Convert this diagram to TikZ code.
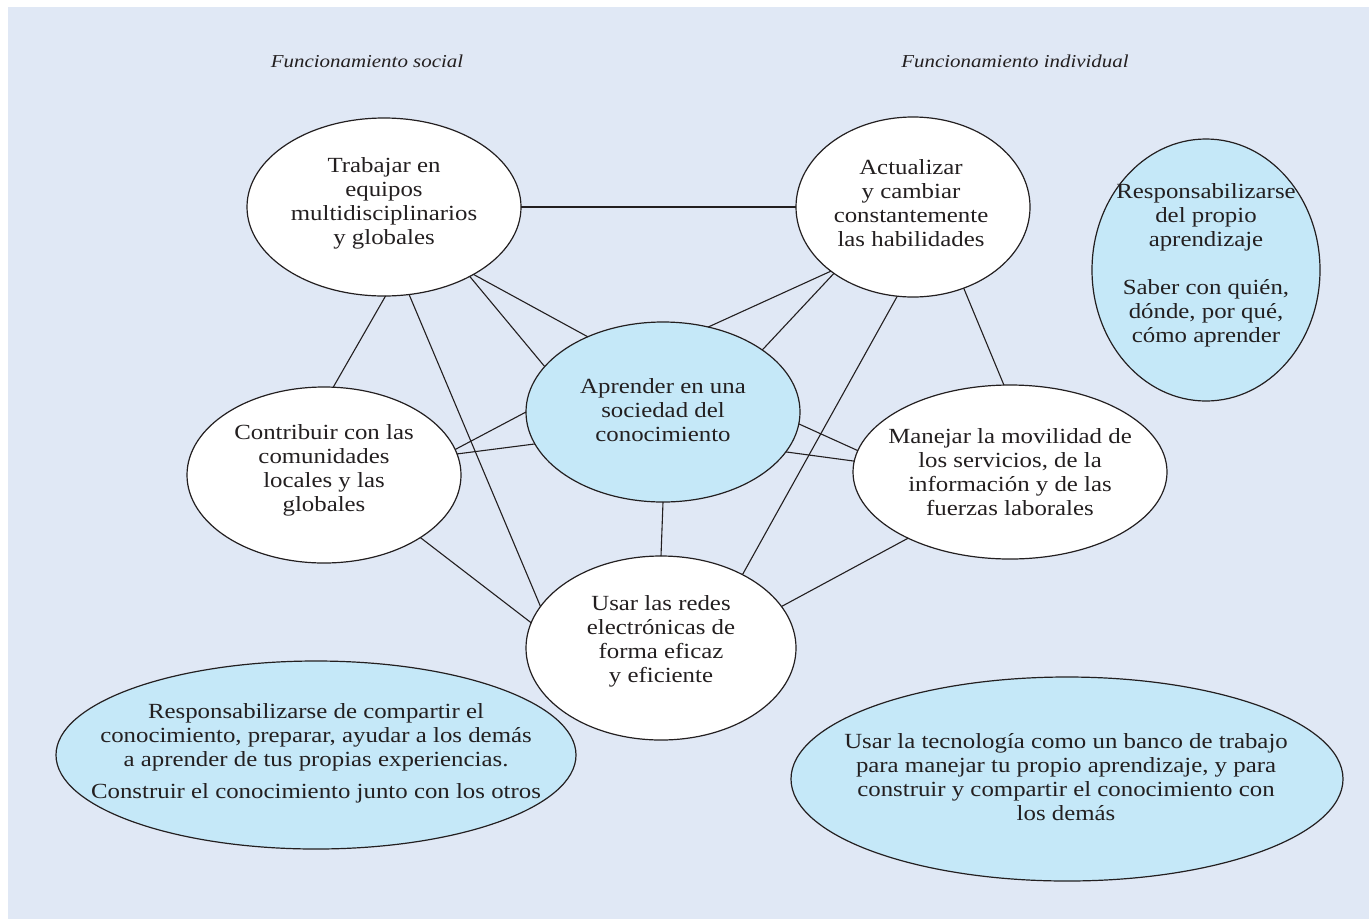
\documentclass[tikz,border=0pt]{standalone}
\usepackage{fontspec}
\setmainfont[FakeStretch=1.15]{Liberation Serif}
\usetikzlibrary{shapes.geometric}
\definecolor{bgc}{HTML}{E0E8F5}
\definecolor{blu}{HTML}{C5E8F8}
\definecolor{ink}{HTML}{231F20}
\begin{document}
\begin{tikzpicture}[x=1pt,y=-1pt,
  bub/.style={ellipse, draw=ink, line width=1.2pt, fill=white, inner sep=0pt, outer sep=0pt},
  hot/.style={bub, fill=blu},
  txt/.style={align=center, text=ink, font=\fontsize{21.6}{24}\selectfont, inner sep=0pt},
  ttl/.style={text=ink, font=\fontsize{18.2}{22}\selectfont\itshape, inner sep=0pt},
  link/.style={draw=ink, line width=1.1pt}]
\useasboundingbox (0,0) rectangle (1372,919);
\fill[bgc] (8,7) rectangle (1369,919);

\node[ttl] (t1) at (367,61) {Funcionamiento social};
\node[ttl] (t2) at (1015,61) {Funcionamiento individual};

% ellipses
\node[bub, minimum width=274pt, minimum height=178pt] (A) at (384,207) {};
\node[bub, minimum width=234pt, minimum height=180pt] (B) at (913,207) {};
\node[hot, minimum width=228pt, minimum height=262pt] (C) at (1206,270) {};
\node[hot, minimum width=274pt, minimum height=180pt] (D) at (663,412) {};
\node[bub, minimum width=274pt, minimum height=176pt] (E) at (324,475) {};
\node[bub, minimum width=314pt, minimum height=174pt] (F) at (1010,472) {};
\node[bub, minimum width=270pt, minimum height=184pt] (G) at (661,648) {};
\node[hot, minimum width=520pt, minimum height=188pt] (H) at (316,755) {};
\node[hot, minimum width=552pt, minimum height=204pt] (I) at (1067,779) {};

% texts
\node[txt] (At) at (384,203) {Trabajar en\\equipos\\multidisciplinarios\\y globales};
\node[txt] (Bt) at (911,203) {Actualizar\\y cambiar\\constantemente\\las habilidades};
\node[txt] (Ct) at (1206,265) {Responsabilizarse\\del propio\\aprendizaje\\[24pt]Saber con quién,\\dónde, por qué,\\cómo aprender};
\node[txt] (Dt) at (663,410) {Aprender en una\\sociedad del\\conocimiento};
\node[txt] (Et) at (324,470) {Contribuir con las\\comunidades\\locales y las\\globales};
\node[txt] (Ft) at (1010,472) {Manejar la movilidad de\\los servicios, de la\\información y de las\\fuerzas laborales};
\node[txt] (Gt) at (661,641) {Usar las redes\\electrónicas de\\forma eficaz\\y eficiente};
\node[txt] (Ht) at (316,753) {Responsabilizarse de compartir el\\conocimiento, preparar, ayudar a los demás\\a aprender de tus propias experiencias.\\[8pt]Construir el conocimiento junto con los otros};
\node[txt] (It) at (1066,777) {Usar la tecnología como un banco de trabajo\\para manejar tu propio aprendizaje, y para\\construir y compartir el conocimiento con\\los demás};

% connectors
\draw[link] (A.0) -- (B.180);
\draw[link] (A.-89) -- (E.84);
\draw[link] (A.-74.7) -- (G.161);
\draw[link] (A.-39.5) -- (D.159.4);
\draw[link] (A.-37.5) -- (D.135);
\draw[link] (B.-142) -- (D.62.6);
\draw[link] (B.-140) -- (D.32.5);
\draw[link] (B.-100) -- (G.42.4);
\draw[link] (B.-58) -- (F.94);
\draw[link] (E.11.6) -- (D.180);
\draw[link] (E.9.4) -- (D.-166.8);
\draw[link] (E.-33.6) -- (G.169.4);
\draw[link] (D.-5.9) -- (F.172.9);
\draw[link] (D.-18.9) -- (F.176.3);
\draw[link] (D.-90) -- (G.90);
\draw[link] (F.-147) -- (G.19.2);
\end{tikzpicture}
\end{document}
